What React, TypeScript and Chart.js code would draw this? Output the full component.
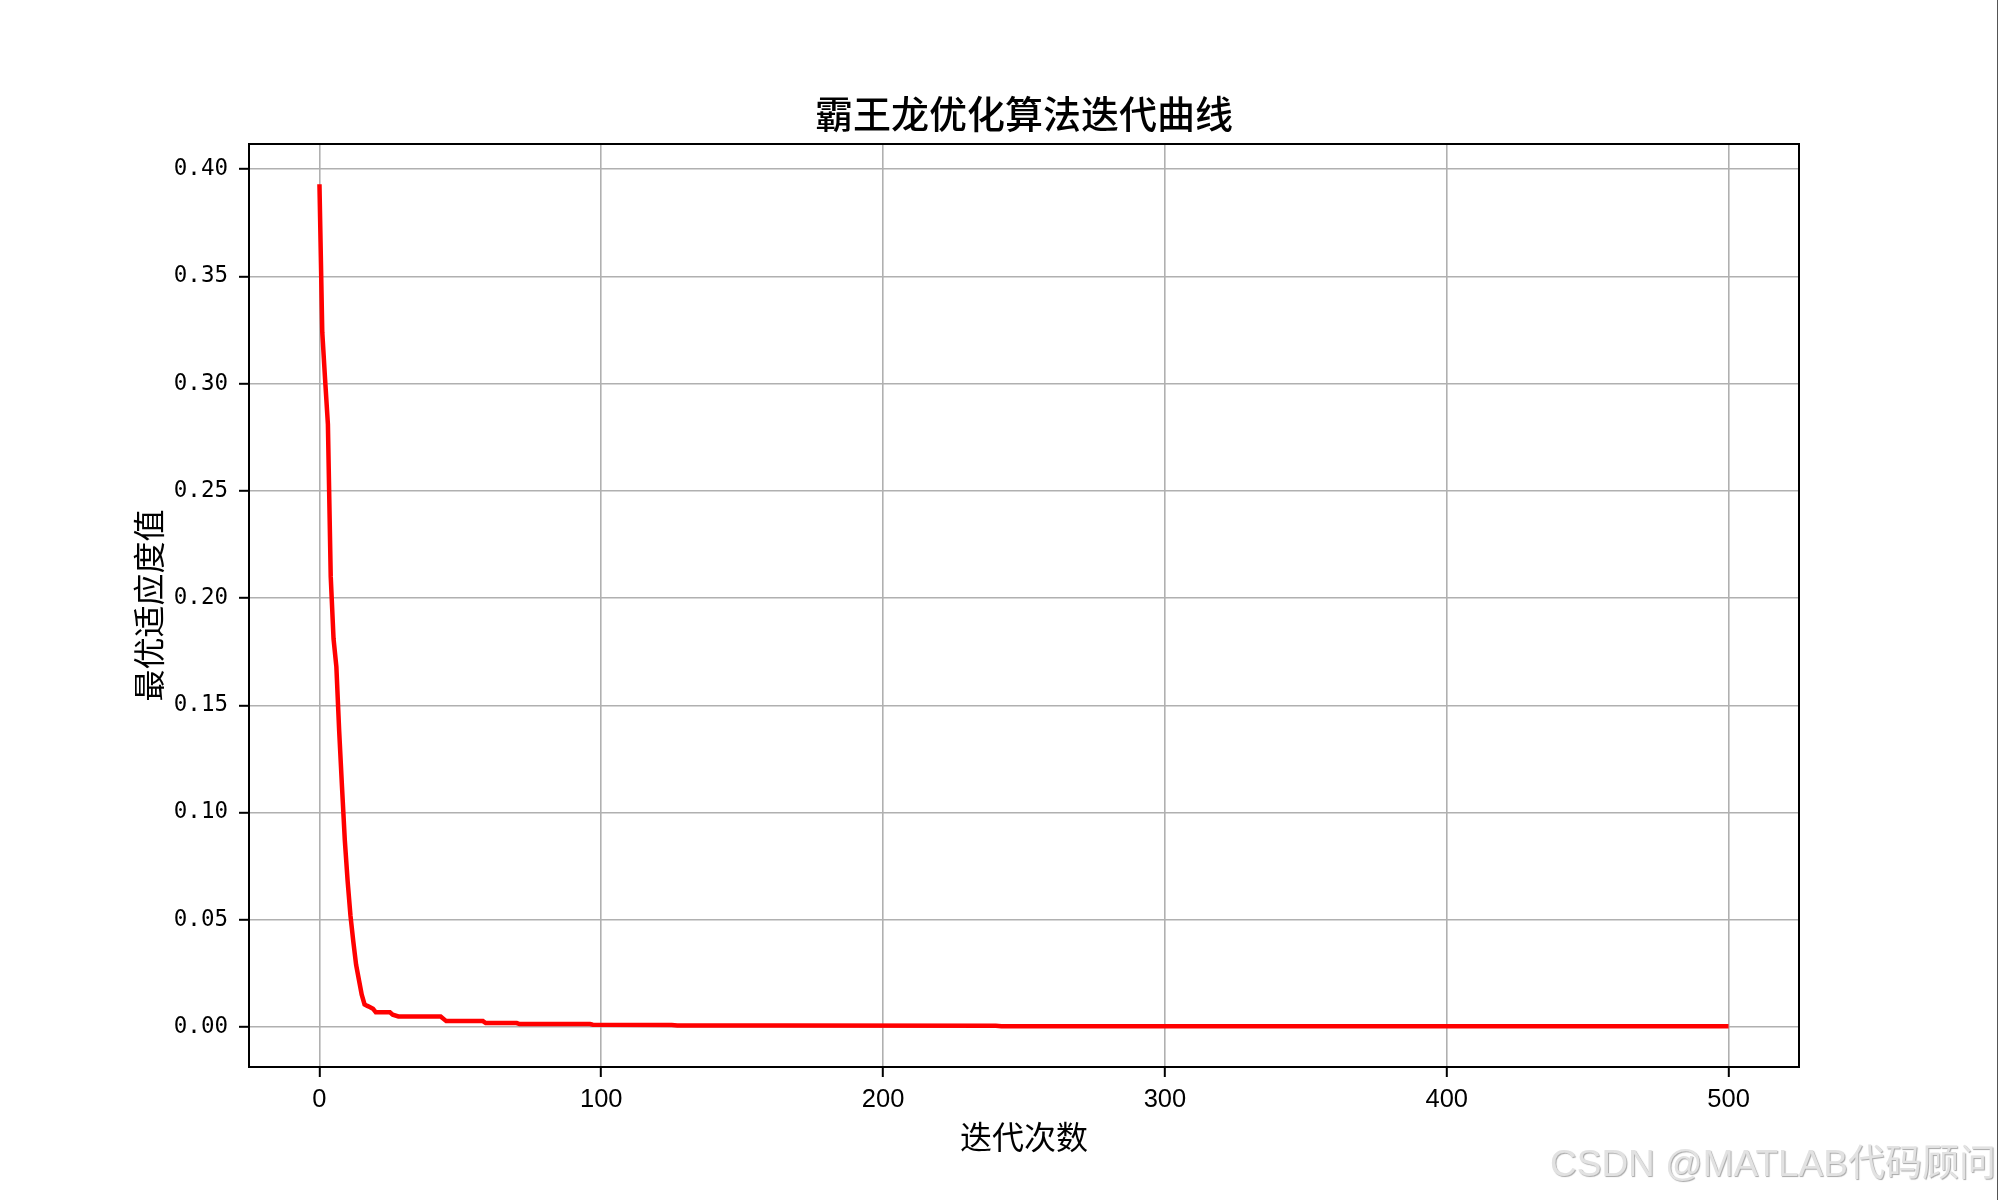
import React, { useEffect, useRef } from "react";
import { Chart, registerables } from "chart.js";

Chart.register(...registerables);

const TITLE = "霸王龙优化算法迭代曲线";
const X_TITLE = "迭代次数";
const Y_TITLE = "最优适应度值";
const WATERMARK = "CSDN @MATLAB代码顾问";

// iteration numbers where the curve changes
const iterations = [
  0, 1, 2, 3, 4, 5, 6, 7, 8, 9, 10, 11, 12, 13, 14, 15, 16, 17, 18, 19, 20,
  25, 26, 28, 43, 45, 58, 59, 70, 71, 96, 97, 125, 127, 165, 240, 242, 500,
];
// best fitness at those iterations
const fitness = [
  0.393, 0.324, 0.302, 0.281, 0.21, 0.181, 0.168, 0.138, 0.112, 0.087, 0.068,
  0.052, 0.04, 0.029, 0.022, 0.015, 0.0105, 0.0098, 0.0092, 0.0085, 0.0068,
  0.0068, 0.0057, 0.0049, 0.0049, 0.0027, 0.0027, 0.0018, 0.0018, 0.0013,
  0.0013, 0.001, 0.0009, 0.0007, 0.0006, 0.0005, 0.0003, 0.0003,
];

const X_MIN = -25;
const X_MAX = 525;
const X_STEP = 100;
const Y_MIN = -0.0187;
const Y_MAX = 0.4118;
const Y_STEP = 0.05;

export default function App() {
  const ref = useRef<HTMLCanvasElement | null>(null);

  useEffect(() => {
    if (!ref.current) return;
    const frame = {
      id: "frame",
      afterDatasetsDraw(chart: any) {
        const { ctx, chartArea: a } = chart;
        ctx.save();
        ctx.strokeStyle = "#000";
        ctx.lineWidth = 2;
        ctx.strokeRect(a.left, a.top, a.right - a.left, a.bottom - a.top);
        ctx.restore();
      },
    };
    const chart = new Chart(ref.current, {
      type: "line",
      data: {
        datasets: [
          {
            data: iterations.map((x, i) => ({ x, y: fitness[i] })),
            borderColor: "#ff0000",
            borderWidth: 4.5,
            pointRadius: 0,
            tension: 0,
            fill: false,
          },
        ],
      },
      options: {
        responsive: false,
        animation: false,
        devicePixelRatio: 1,
        layout: { padding: { top: 0, right: 201, left: 0, bottom: 0 } },
        plugins: {
          legend: { display: false },
          tooltip: { enabled: false },
          title: {
            display: true,
            text: TITLE,
            fullSize: false,
            color: "#000",
            font: { family: "'Noto Sans CJK SC'", size: 38, weight: "500", lineHeight: 1.2 },
            padding: { top: 91, bottom: 7.4 },
          },
        },
        scales: {
          x: {
            type: "linear",
            min: X_MIN,
            max: X_MAX,
            afterFit(scale: any) {
              scale.height = 133;
            },
            ticks: {
              stepSize: X_STEP,
              includeBounds: false,
              color: "#000",
              padding: 8,
              maxRotation: 0,
              font: { family: "'Liberation Sans'", size: 25.5 },
              callback: (v: any) => String(Math.round(Number(v))),
            },
            grid: {
              color: "#b0b0b0",
              lineWidth: 1.6,
              tickLength: 10,
              tickColor: "#000",
              tickWidth: 2,
            },
            border: { display: true, color: "#000", width: 2 },
            title: {
              display: true,
              text: X_TITLE,
              color: "#000",
              font: { family: "'Noto Sans CJK SC'", size: 32, lineHeight: 1.2 },
              padding: { top: 0, bottom: 44 },
            },
          },
          y: {
            type: "linear",
            min: Y_MIN,
            max: Y_MAX,
            afterFit(scale: any) {
              scale.width = 249;
            },
            ticks: {
              stepSize: Y_STEP,
              includeBounds: false,
              color: "#000",
              padding: 11,
              font: { family: "'DejaVu Sans Mono'", size: 22.5 },
              callback: (v: any) => Number(v).toFixed(2),
            },
            grid: {
              color: "#b0b0b0",
              lineWidth: 1.6,
              tickLength: 10,
              tickColor: "#000",
              tickWidth: 2,
            },
            border: { display: true, color: "#000", width: 2 },
            title: {
              display: true,
              text: Y_TITLE,
              color: "#000",
              font: { family: "'Noto Sans CJK SC'", size: 32, lineHeight: 1.2 },
              padding: { top: 130, bottom: 0 },
            },
          },
        },
      },
      plugins: [frame],
    } as any);
    return () => chart.destroy();
  }, []);

  return (
    <div
      style={{
        position: "fixed",
        left: 0,
        top: 0,
        width: 2000,
        height: 1200,
        background: "#fff",
        overflow: "hidden",
      }}
    >
      <canvas ref={ref} width={2000} height={1200} style={{ display: "block" }} />
      <div
        style={{
          position: "absolute",
          left: 1550,
          top: 1140,
          fontFamily: "'Liberation Sans', 'Noto Sans CJK SC', sans-serif",
          fontSize: 37,
          lineHeight: "48px",
          color: "#e2e2e2",
          textShadow: "1px 1px 1px #a8a8a8",
          whiteSpace: "nowrap",
        }}
      >
        {WATERMARK}
      </div>
      <div
        style={{
          position: "absolute",
          left: 1997,
          top: 0,
          width: 1,
          height: 1200,
          background: "#555",
        }}
      />
    </div>
  );
}
